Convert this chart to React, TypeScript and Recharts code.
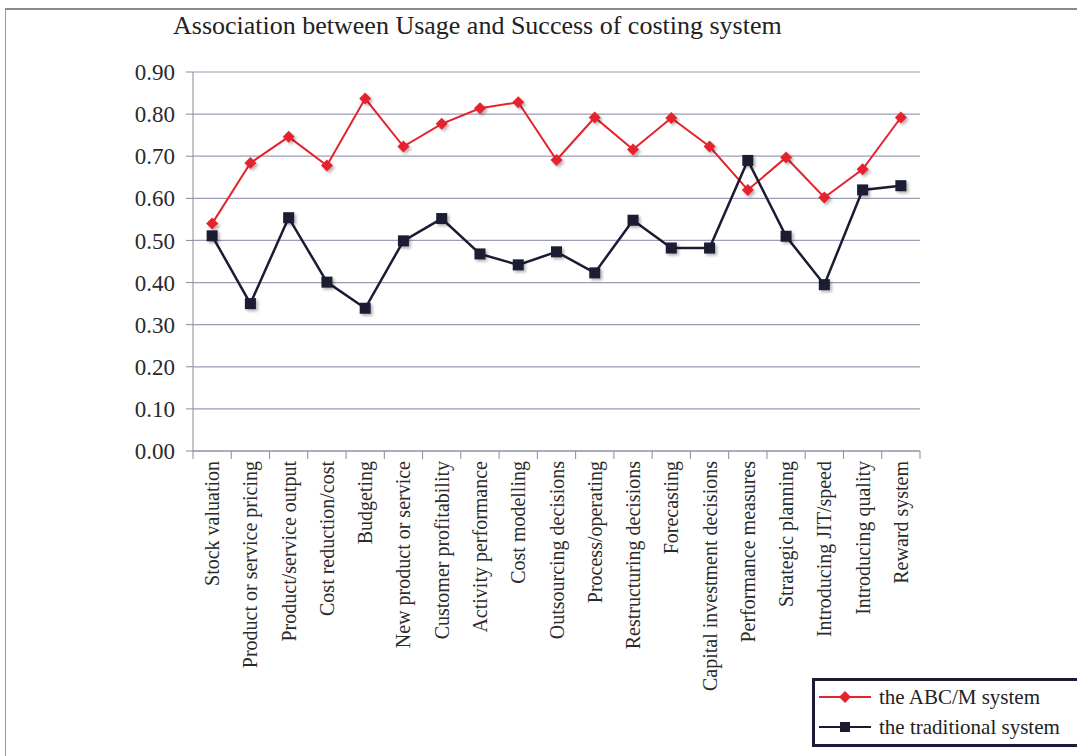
import { LineChart, Line, XAxis, YAxis, CartesianGrid } from 'recharts';

const categories = [
  'Stock valuation',
  'Product or service pricing',
  'Product/service output',
  'Cost reduction/cost',
  'Budgeting',
  'New product or service',
  'Customer profitability',
  'Activity performance',
  'Cost modelling',
  'Outsourcing decisions',
  'Process/operating',
  'Restructuring decisions',
  'Forecasting',
  'Capital investment decisions',
  'Performance measures',
  'Strategic planning',
  'Introducing JIT/speed',
  'Introducing quality',
  'Reward system',
];

const abcValues = [
  0.54, 0.684, 0.746, 0.678, 0.837, 0.723, 0.777, 0.814, 0.828, 0.691,
  0.792, 0.716, 0.791, 0.723, 0.62, 0.697, 0.602, 0.669, 0.792,
];

const traditionalValues = [
  0.511, 0.35, 0.554, 0.401, 0.339, 0.499, 0.552, 0.468, 0.442, 0.473,
  0.423, 0.548, 0.482, 0.482, 0.69, 0.51, 0.395, 0.62, 0.63,
];

const yTicks = [0, 0.1, 0.2, 0.3, 0.4, 0.5, 0.6, 0.7, 0.8, 0.9];

const data = categories.map((name, i) => ({
  name,
  abc: abcValues[i],
  traditional: traditionalValues[i],
}));

const SERIF = '"Liberation Serif", "DejaVu Serif", serif';
const RED = '#e5232d';
const NAVY = '#1b1b33';

function CategoryTick(props: any) {
  const { x, y, payload, index, visibleTicksCount } = props;
  const off = payload?.offset ?? 0;
  const isLast = index === visibleTicksCount - 1;
  return (
    <g>
      <line x1={x - off} x2={x - off} y1={y} y2={y + 8} stroke="#8a8a9a" strokeWidth={1} />
      {isLast && (
        <line x1={x + off} x2={x + off} y1={y} y2={y + 8} stroke="#8a8a9a" strokeWidth={1} />
      )}
      <text
        transform={`translate(${x + 7}, ${y + 10}) rotate(-90)`}
        textAnchor="end"
        fontFamily={SERIF}
        fontSize={20}
        fill="#2a2a2a"
      >
        {payload.value}
      </text>
    </g>
  );
}

function Diamond(props: any) {
  const { cx, cy } = props;
  if (cx == null || cy == null) return null;
  const r = 6;
  return (
    <polygon
      points={`${cx},${cy - r} ${cx + r},${cy} ${cx},${cy + r} ${cx - r},${cy}`}
      fill={RED}
      filter="url(#markShadow)"
    />
  );
}

function Square(props: any) {
  const { cx, cy } = props;
  if (cx == null || cy == null) return null;
  const s = 11;
  return (
    <rect x={cx - s / 2} y={cy - s / 2} width={s} height={s} fill={NAVY} filter="url(#markShadow)" />
  );
}

function LegendBox() {
  const rows = [
    { label: 'the ABC/M system', color: RED, kind: 'diamond' },
    { label: 'the traditional system', color: NAVY, kind: 'square' },
  ];
  return (
    <div
      style={{
        position: 'absolute',
        left: 812,
        top: 678,
        width: 262,
        height: 62,
        border: `3px solid ${NAVY}`,
        background: '#fff',
        fontFamily: SERIF,
        fontSize: 21,
        color: '#222',
        padding: '1px 0 0 4px',
        boxSizing: 'content-box',
      }}
    >
      {rows.map((r) => (
        <div key={r.label} style={{ display: 'flex', alignItems: 'center', height: 30 }}>
          <svg width={52} height={16} style={{ marginRight: 8 }}>
            <line x1={0} x2={52} y1={8} y2={8} stroke={r.color} strokeWidth={2} />
            {r.kind === 'diamond' ? (
              <polygon points="26,2 32,8 26,14 20,8" fill={r.color} />
            ) : (
              <rect x={21} y={3} width={10} height={10} fill={r.color} />
            )}
          </svg>
          <span>{r.label}</span>
        </div>
      ))}
    </div>
  );
}

export default function App() {
  return (
    <div
      style={{
        position: 'absolute',
        left: 0,
        top: 0,
        width: 1077,
        height: 756,
        background: '#fff',
        overflow: 'hidden',
      }}
    >
      <svg width={0} height={0} style={{ position: 'absolute' }}>
        <defs>
          <filter id="markShadow" x="-50%" y="-50%" width="200%" height="200%">
            <feDropShadow dx={2} dy={2} stdDeviation={1.5} floodColor="#000" floodOpacity={0.3} />
          </filter>
        </defs>
      </svg>
      {/* outer frame */}
      <div
        style={{
          position: 'absolute',
          left: 5,
          top: 8,
          width: 1100,
          height: 800,
          borderTop: '2px solid #8a8a8a',
          borderLeft: '1px solid #9a9a9a',
        }}
      />
      <div
        style={{
          position: 'absolute',
          left: 173,
          top: 11,
          fontFamily: SERIF,
          fontSize: 26,
          color: '#222',
          whiteSpace: 'nowrap',
        }}
      >
        Association between Usage and Success of costing system
      </div>
      <div style={{ position: 'absolute', left: 0, top: 0 }}>
        <LineChart
          width={1077}
          height={756}
          data={data}
          margin={{ top: 72, right: 157, left: 133, bottom: 55 }}
        >
          <CartesianGrid vertical={false} stroke="#9c9cb4" strokeWidth={1.2} />
          <XAxis
            dataKey="name"
            scale="band"
            interval={0}
            height={250}
            tickLine={false}
            tickSize={0}
            tickMargin={0}
            axisLine={{ stroke: '#8a8a9a' }}
            tick={<CategoryTick />}
          />
          <YAxis
            width={60}
            domain={[0, 0.9]}
            ticks={yTicks}
            interval={0}
            tickSize={7}
            tickMargin={11}
            tickLine={{ stroke: '#8a8a9a' }}
            axisLine={{ stroke: '#8a8a9a' }}
            tickFormatter={(v: number) => v.toFixed(2)}
            tick={{ fontFamily: SERIF, fontSize: 23, fill: '#2a2a2a' }}
          />
          <Line
            type="linear"
            dataKey="abc"
            name="the ABC/M system"
            stroke={RED}
            strokeWidth={2}
            dot={<Diamond />}
            activeDot={false}
            isAnimationActive={false}
          />
          <Line
            type="linear"
            dataKey="traditional"
            name="the traditional system"
            stroke={NAVY}
            strokeWidth={2.5}
            dot={<Square />}
            activeDot={false}
            isAnimationActive={false}
          />
        </LineChart>
      </div>
      <LegendBox />
    </div>
  );
}
